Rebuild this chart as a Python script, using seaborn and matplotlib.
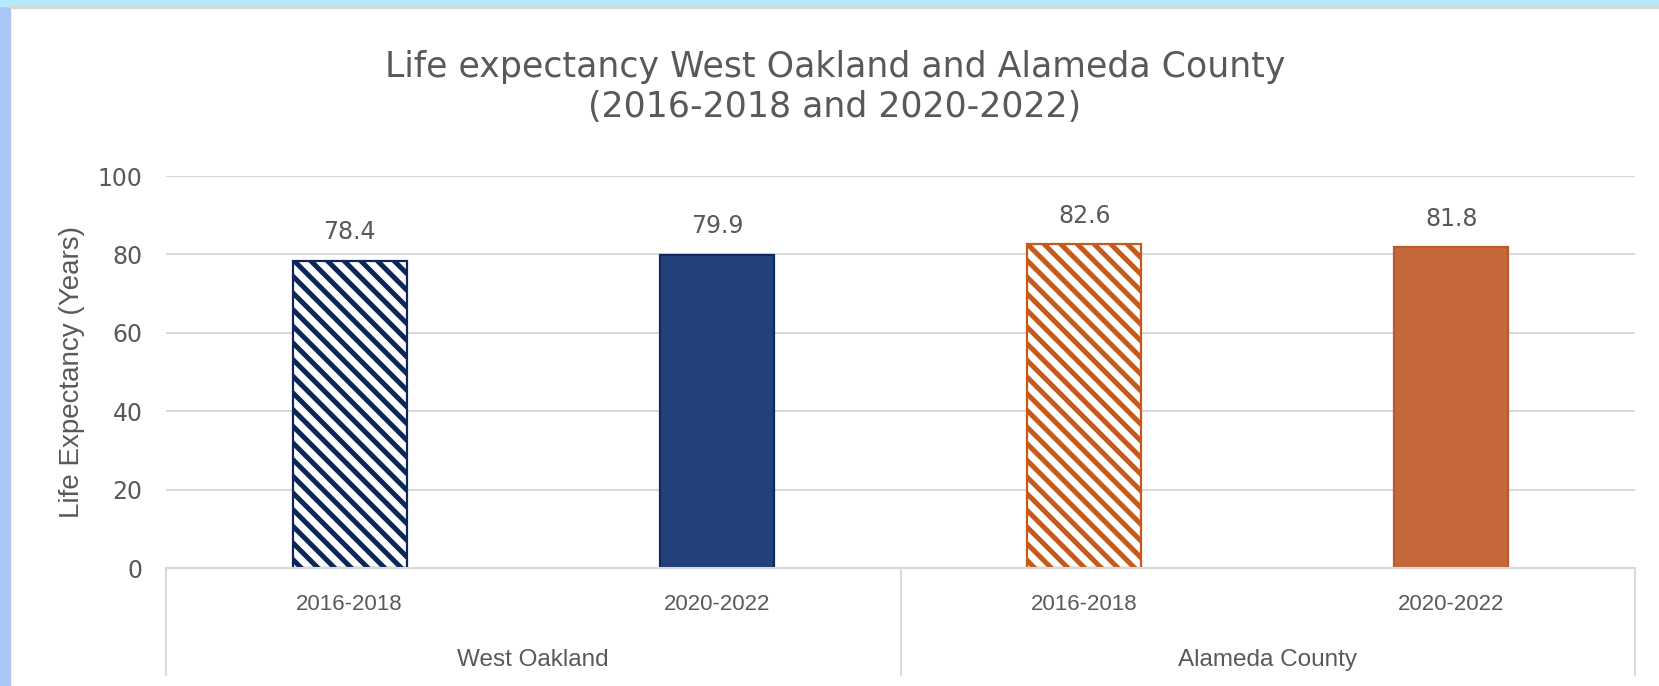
import numpy as np
import pandas as pd
import matplotlib
matplotlib.use("Agg")
import matplotlib.pyplot as plt
from matplotlib.patches import Rectangle
import seaborn as sns

# data
regions = ["West Oakland", "West Oakland", "Alameda County", "Alameda County"]
periods = ["2016-2018", "2020-2022", "2016-2018", "2020-2022"]
life_exp = [78.4, 79.9, 82.6, 81.8]
group_names = ["West Oakland", "Alameda County"]

face_colors = ["white", "#22407A", "white", "#C4683A"]
edge_colors = ["#0B2657", "#0E2A5E", "#C55A1B", "#B95C2C"]
hatches = ["\\\\", "", "\\\\", ""]

sns.set_theme(style="white")
plt.rcParams["font.family"] = ["Liberation Sans", "DejaVu Sans"]
plt.rcParams["hatch.linewidth"] = 3.6
wide = "DejaVu Sans"
txt = "#595959"
grid_c = "#D9D9D9"

df = pd.DataFrame({"key": [r + " " + p for r, p in zip(regions, periods)],
                   "value": life_exp})

fig = plt.figure(figsize=(16.59, 6.86), dpi=100)
# screenshot frame strips
fig.patches.append(Rectangle((0, 0), 10 / 1659, 1, transform=fig.transFigure,
                             color="#A9C6F4", zorder=0))
fig.patches.append(Rectangle((0, 1 - 6 / 686), 1, 6 / 686, transform=fig.transFigure,
                             color="#B6E9FB", zorder=0))
fig.patches.append(Rectangle((10 / 1659, 1 - 8 / 686), 1, 2 / 686, transform=fig.transFigure,
                             color="#D8D8D8", zorder=0))

ax = fig.add_axes([166 / 1659, (686 - 568) / 686, (1635 - 166) / 1659, (568 - 176) / 686])
sns.barplot(data=df, x="key", y="value", hue="key", dodge=False, legend=False,
            width=0.31, ax=ax, palette=face_colors)

for i, bar in enumerate(ax.patches[:4]):
    bar.set_facecolor(face_colors[i])
    bar.set_edgecolor(edge_colors[i])
    bar.set_linewidth(1.6)
    bar.set_hatch(hatches[i])
    ax.text(bar.get_x() + bar.get_width() / 2, life_exp[i] + 7.3, f"{life_exp[i]:.1f}",
            ha="center", va="center", fontsize=17, color=txt, family=wide)

ax.set_ylim(0, 100)
ax.set_xlim(-0.5, 3.5)
ax.set_yticks(np.arange(0, 101, 20))
ax.tick_params(axis="y", labelsize=17, labelcolor=txt, pad=17, length=0)
for lab in ax.get_yticklabels():
    lab.set_family(wide)
ax.yaxis.grid(True, color=grid_c, linewidth=1.5)
ax.set_axisbelow(True)
for s in ["top", "right", "left"]:
    ax.spines[s].set_visible(False)
ax.spines["bottom"].set_color(grid_c)
ax.spines["bottom"].set_linewidth(1.5)

ax.set_xticks([])
ax.set_xlabel("")
ax.set_ylabel("Life Expectancy (Years)", fontsize=20, color=txt)
ax.yaxis.label.set_verticalalignment("center")
ax.yaxis.set_label_coords(-(166 - 72) / (1635 - 166), 0.5)

# two-level category axis
trans = ax.get_xaxis_transform()
h = 568 - 176
for i, p in enumerate(periods):
    ax.text(i, -37 / h, p, transform=trans, ha="center", va="center",
            fontsize=16, color=txt)
for g, name in enumerate(group_names):
    ax.text(2 * g + 0.5, -92 / h, name, transform=trans, ha="center", va="center",
            fontsize=17.5, color=txt)
for xs in [-0.5, 1.5, 3.5]:
    ax.plot([xs, xs], [0, -107 / h], transform=trans, color=grid_c, lw=1.5, clip_on=False)

fig.text(835 / 1659, 1 - 67 / 686, "Life expectancy West Oakland and Alameda County",
         ha="center", va="center", fontsize=25, color=txt, family=wide)
fig.text(835 / 1659, 1 - 107 / 686, "(2016-2018 and 2020-2022)",
         ha="center", va="center", fontsize=25, color=txt, family=wide)

fig.savefig("out.png", dpi=100)
